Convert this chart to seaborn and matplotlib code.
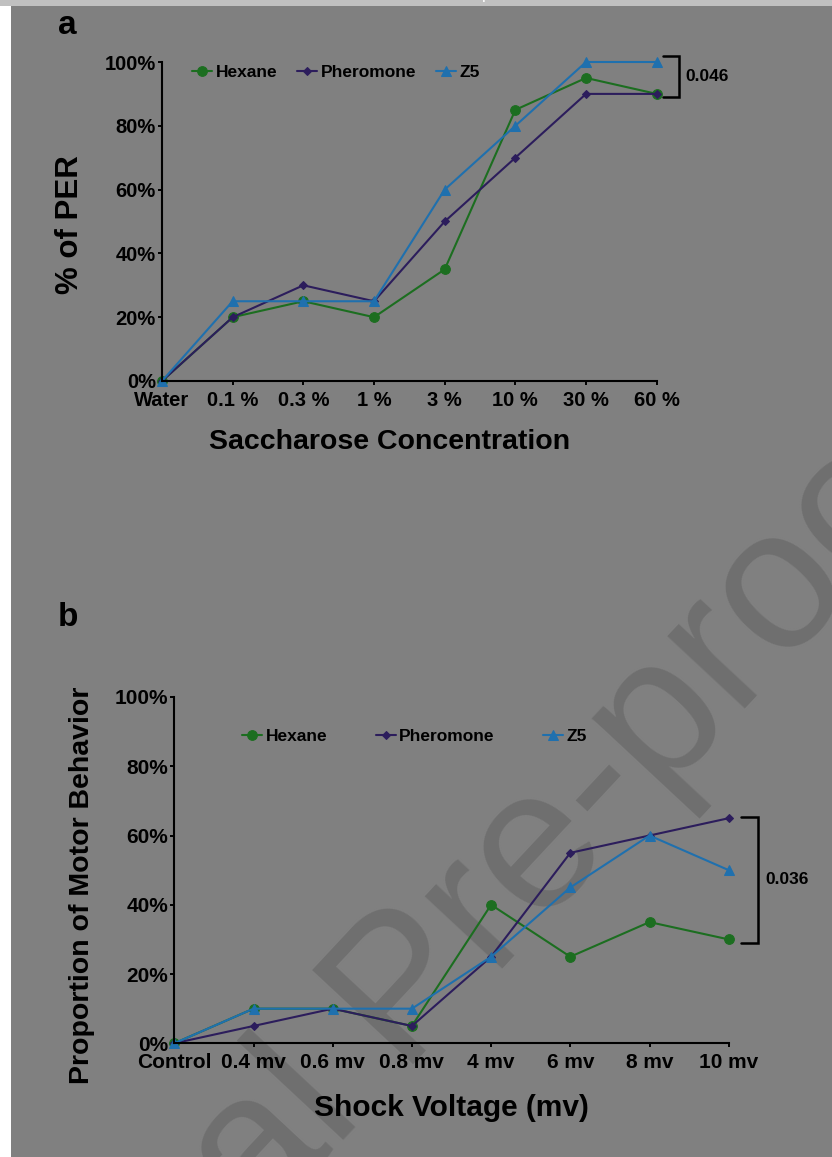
import matplotlib
matplotlib.use('Agg')
import matplotlib.pyplot as plt
from matplotlib.patches import Rectangle
import pandas as pd
import seaborn as sns

# values (percent)
groups = ['Hexane', 'Pheromone', 'Z5']

sacch_levels = ['Water', '0.1 %', '0.3 %', '1 %', '3 %', '10 %', '30 %', '60 %']
per_hexane = [0, 20, 25, 20, 35, 85, 95, 90]
per_pheromone = [0, 20, 30, 25, 50, 70, 90, 90]
per_z5 = [0, 25, 25, 25, 60, 80, 100, 100]

shock_levels = ['Control', '0.4 mv', '0.6 mv', '0.8 mv', '4 mv', '6 mv', '8 mv', '10 mv']
motor_hexane = [0, 10, 10, 5, 40, 25, 35, 30]
motor_pheromone = [0, 5, 10, 5, 25, 55, 60, 65]
motor_z5 = [0, 10, 10, 10, 25, 45, 60, 50]

y_ticks = [0, 20, 40, 60, 80, 100]
p_per = '0.046'
p_motor = '0.036'

# styling
W, H = 832, 1157
BG = '#808080'
colors = {'Hexane': '#1c6e20', 'Pheromone': '#2c1d5c', 'Z5': '#1f70ae'}
markers = {'Hexane': 'o', 'Pheromone': 'D', 'Z5': '^'}
msize = {'Hexane': 7, 'Pheromone': 4.5, 'Z5': 7}


def long_df(levels, series):
  rows = []
  for g, vals in zip(groups, series):
    for i, v in enumerate(vals):
      rows.append({'pos': i, 'level': levels[i], 'group': g, 'value': v})
  return pd.DataFrame(rows)


def fx(x):
  return x / W


def fy(y):
  return 1 - y / H


sns.set_theme(style='white')
plt.rcParams['font.family'] = ['Liberation Sans', 'DejaVu Sans']
plt.rcParams['font.weight'] = 'bold'
plt.rcParams['text.color'] = 'black'

fig = plt.figure(figsize=(W / 100, H / 100), dpi=100, facecolor=BG)


def draw_panel(box, df, levels, xlabel, ylabel, xlab_pos, ylab_pos, lab_fs,
               leg_pos, colspace, bracket, p_text, tick_fs):
  left, top, right, bottom = box
  ax = fig.add_axes([fx(left), fy(bottom), (right - left) / W, (bottom - top) / H])
  ax.set_facecolor('none')
  sns.lineplot(data=df, x='pos', y='value', hue='group', style='group',
               palette=colors, markers=markers, dashes=False, linewidth=1.5, ax=ax)
  for line, g in zip(ax.lines, groups):
    line.set_markersize(msize[g])
    line.set_markeredgecolor(colors[g])
    line.set_markerfacecolor(colors[g])
    line.set_clip_on(False)

  ax.set_xlim(0, 7)
  ax.set_ylim(0, 100)
  ax.set_xticks(range(len(levels)))
  ax.set_xticklabels(levels)
  ax.set_yticks(y_ticks)
  ax.set_yticklabels([f'{v}%' for v in y_ticks])
  ax.tick_params(axis='both', bottom=True, left=True, direction='out', length=3,
                 width=1.4, color='black', labelcolor='black', labelsize=tick_fs)
  ax.tick_params(axis='x', pad=4)
  ax.tick_params(axis='y', pad=1.5)
  for s in ['top', 'right']:
    ax.spines[s].set_visible(False)
  for s in ['left', 'bottom']:
    ax.spines[s].set_color('black')
    ax.spines[s].set_linewidth(1.5)

  ax.set_xlabel(xlabel, fontsize=lab_fs[0], fontweight='bold', color='black')
  ax.set_ylabel(ylabel, fontsize=lab_fs[1], fontweight='bold', color='black')
  ax.xaxis.label.set_va('center')
  ax.yaxis.label.set_va('center')
  ax.xaxis.set_label_coords((xlab_pos[0] - left) / (right - left),
                            (bottom - xlab_pos[1]) / (bottom - top))
  ax.yaxis.set_label_coords((ylab_pos[0] - left) / (right - left),
                            (bottom - ylab_pos[1]) / (bottom - top))

  # legend in one row above the lines
  old = ax.get_legend()
  handles = old.legend_handles
  labels = [t.get_text() for t in old.get_texts()]
  old.remove()
  for h, g in zip(handles, labels):
    h.set_markersize(msize[g])
    h.set_markeredgecolor(colors[g])
    h.set_linewidth(1.5)
  ax.legend(handles, labels, loc='center left', ncol=3, frameon=False,
            bbox_to_anchor=(fx(leg_pos[0]), fy(leg_pos[1])), bbox_transform=fig.transFigure,
            borderpad=0, borderaxespad=0, handlelength=1.15, handletextpad=0.2,
            columnspacing=colspace, prop={'weight': 'bold', 'size': 12.5})

  # significance bracket
  x0, x1, ytop, ybot = bracket
  ax.plot([x0, x1, x1, x0], [ytop, ytop, ybot, ybot], color='black', lw=1.8,
          clip_on=False, solid_joinstyle='miter')
  ax.text(x1 + 0.09, (ytop + ybot) / 2, p_text, ha='left', va='center',
          fontsize=12.5, fontweight='bold', color='black')
  return ax


df_per = long_df(sacch_levels, [per_hexane, per_pheromone, per_z5])
df_motor = long_df(shock_levels, [motor_hexane, motor_pheromone, motor_z5])

draw_panel((162, 62, 656.7, 381), df_per, sacch_levels,
           'Saccharose Concentration', '% of PER',
           (390, 442), (70, 225), (20.5, 22.5), (192, 72), 1.15,
           (7.09, 7.31, 102, 89), p_per, 14.5)

draw_panel((174.3, 697, 728.7, 1043.3), df_motor, shock_levels,
           'Shock Voltage (mv)', 'Proportion of Motor Behavior',
           (451, 1108), (82.5, 885), (21.5, 20.5), (242, 736), 2.8,
           (7.155, 7.37, 65.4, 29.0), p_motor, 15)

fig.text(fx(67), fy(25), 'a', fontsize=24, fontweight='bold', ha='center', va='center')
fig.text(fx(68), fy(617), 'b', fontsize=24, fontweight='bold', ha='center', va='center')

# watermark behind the plots
fig.text(fx(407), fy(996), 'Journal Pre-proof', fontsize=144, fontweight='normal',
         color='#6f6f6f', rotation=47, rotation_mode='anchor',
         ha='center', va='center', zorder=-1)

# page edges of the screenshot
fig.add_artist(Rectangle((0, 0), fx(11), 1, transform=fig.transFigure,
                         facecolor='white', edgecolor='none', zorder=10))
fig.add_artist(Rectangle((0, fy(6)), 1, 6 / H, transform=fig.transFigure,
                         facecolor='#c0c0c0', edgecolor='none', zorder=11))
fig.text(fx(487), 1 + 0.5 / H, 'p', fontsize=12, fontweight='normal', color='white',
         ha='center', va='baseline', zorder=12)

fig.savefig('out.png', dpi=100, facecolor=BG)
